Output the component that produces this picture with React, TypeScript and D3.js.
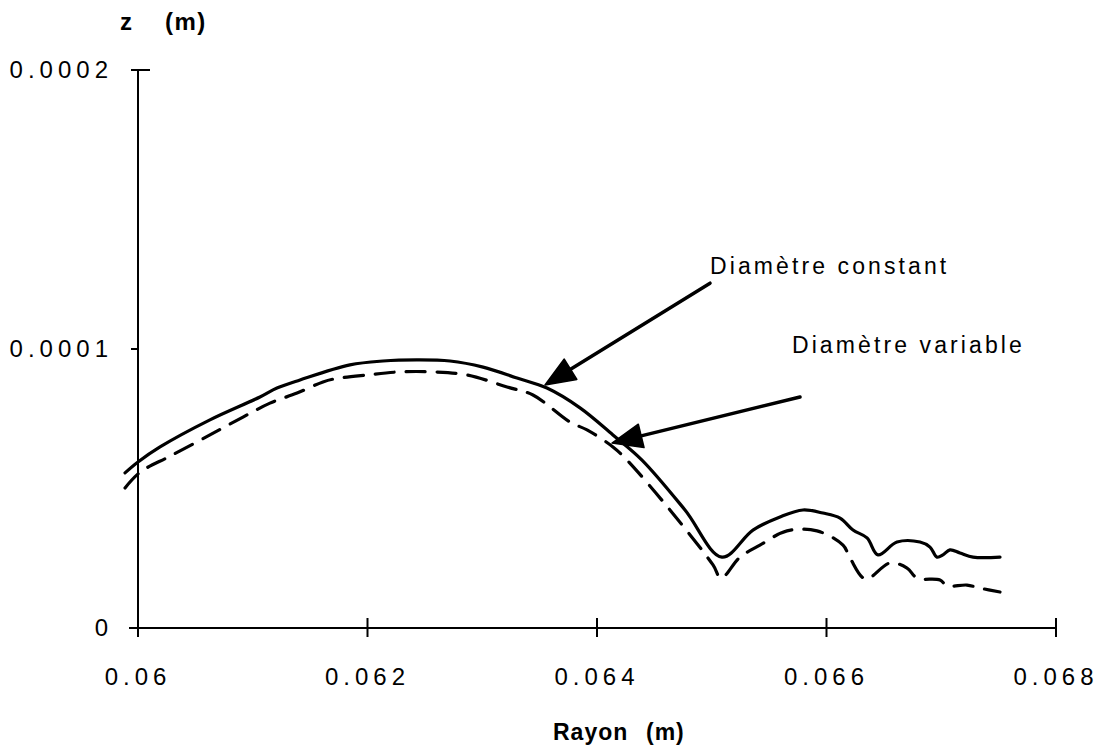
import React from "react";
import * as d3 from "d3";

// Rayon (m) values and z (units of 1e-5 m) — "Diamètre constant" (solid)
const constR = [0.059887, 0.06, 0.060192, 0.060627, 0.061063, 0.061211, 0.061412, 0.061847, 0.062135, 0.062431, 0.062719, 0.063007, 0.063303, 0.063564, 0.063852, 0.064139, 0.064392, 0.064767, 0.065089, 0.065359, 0.065595, 0.065795, 0.065969, 0.066118, 0.066231, 0.066353, 0.066449, 0.066614, 0.066815, 0.066902, 0.066963, 0.067015, 0.067076, 0.067163, 0.067277, 0.067512];
const constZ = [5.56, 5.95, 6.49, 7.46, 8.28, 8.6, 8.89, 9.43, 9.57, 9.61, 9.57, 9.35, 8.96, 8.6, 7.89, 6.92, 6.02, 4.23, 2.54, 3.51, 3.98, 4.23, 4.12, 3.94, 3.51, 3.23, 2.62, 3.08, 3.08, 2.9, 2.54, 2.62, 2.8, 2.69, 2.54, 2.54];

// "Diamètre variable" (dashed)
const varR = [0.059887, 0.06002, 0.06028, 0.060627, 0.060915, 0.06115, 0.061386, 0.061612, 0.0617, 0.061996, 0.062283, 0.062571, 0.062867, 0.063216, 0.063442, 0.063765, 0.063913, 0.064139, 0.064261, 0.064636, 0.065011, 0.065081, 0.065246, 0.06542, 0.065656, 0.065917, 0.066144, 0.066205, 0.06634, 0.066553, 0.066702, 0.066789, 0.066989, 0.06705, 0.067224, 0.067338, 0.067512];
const varZ = [5.02, 5.59, 6.16, 6.92, 7.56, 8.06, 8.42, 8.82, 8.92, 9.07, 9.18, 9.18, 9.07, 8.64, 8.35, 7.38, 7.1, 6.49, 6.02, 4.23, 2.26, 1.79, 2.54, 2.97, 3.48, 3.48, 2.97, 2.51, 1.76, 2.33, 2.15, 1.79, 1.72, 1.51, 1.54, 1.43, 1.29];

const xTicks = [0.06, 0.062, 0.064, 0.066, 0.068];
const xTickLabels = ["0.06", "0.062", "0.064", "0.066", "0.068"];
const yTicks = [0, 0.0001, 0.0002];
const yTickLabels = ["0", "0.0001", "0.0002"];

// annotations: label, text anchor, arrow tail, arrow tip (r, z in 1e-5 m)
const annLabels = ["Diamètre constant", "Diamètre variable"];
const annText = [[0.064985, 12.7], [0.065699, 9.85]];
const annTail = [[0.064985, 12.36], [0.065769, 8.28]];
const annTip = [[0.063547, 8.71], [0.064131, 6.63]];

const W = 1104;
const H = 749;
const FONT = "'Liberation Sans', Arial, Helvetica, sans-serif";

export default function App() {
  const x = d3.scaleLinear().domain([0.06, 0.068]).range([138, 1056]);
  const y = d3.scaleLinear().domain([0, 0.0002]).range([628, 70]);

  const line = d3
    .line<[number, number]>()
    .x((d) => x(d[0]))
    .y((d) => y(d[1] * 1e-5))
    .curve(d3.curveCatmullRom.alpha(0.5));

  const constPts = constR.map((r, i) => [r, constZ[i]] as [number, number]);
  const varPts = varR.map((r, i) => [r, varZ[i]] as [number, number]);

  const arrows = annLabels.map((lab, i) => {
    const tx = x(annTip[i][0]);
    const ty = y(annTip[i][1] * 1e-5);
    const sx = x(annTail[i][0]);
    const sy = y(annTail[i][1] * 1e-5);
    const dx = sx - tx;
    const dy = sy - ty;
    const len = Math.hypot(dx, dy);
    const ux = dx / len;
    const uy = dy / len;
    const L = 30;
    const hw = 12;
    const bx = tx + ux * L;
    const by = ty + uy * L;
    const p1 = [bx - uy * hw, by + ux * hw];
    const p2 = [bx + uy * hw, by - ux * hw];
    return {
      lab,
      sx,
      sy,
      bx,
      by,
      head: `M${tx},${ty}L${p1[0]},${p1[1]}L${p2[0]},${p2[1]}Z`,
      lx: x(annText[i][0]),
      ly: y(annText[i][1] * 1e-5),
    };
  });

  return (
    <svg
      width={W}
      height={H}
      style={{ position: "absolute", left: 0, top: 0, background: "#fff" }}
      fontFamily={FONT}
    >
      <rect x={0} y={0} width={W} height={H} fill="#fff" />
      {/* axes */}
      <line x1={129} x2={x(0.068)} y1={y(0)} y2={y(0)} stroke="#000" strokeWidth={2} />
      <line x1={x(0.06)} x2={x(0.06)} y1={y(0.0002)} y2={y(0)} stroke="#000" strokeWidth={2} />
      {xTicks.map((t, i) => (
        <g key={"xt" + i}>
          <line x1={x(t)} x2={x(t)} y1={y(0) - 10} y2={y(0) + 9} stroke="#000" strokeWidth={2} />
          <text x={x(t)} y={685} textAnchor="middle" fontSize={24} letterSpacing={5} fill="#000">
            {xTickLabels[i]}
          </text>
        </g>
      ))}
      {yTicks.map((t, i) => (
        <g key={"yt" + i}>
          <line x1={x(0.06) - 7} x2={x(0.06) + (i === 2 ? 12 : 0)} y1={y(t)} y2={y(t)} stroke="#000" strokeWidth={2} />
          <text x={113} y={y(t) + 8} textAnchor="end" fontSize={24} letterSpacing={5} fill="#000">
            {yTickLabels[i]}
          </text>
        </g>
      ))}
      {/* axis titles */}
      <text x={120} y={30} fontSize={24} fontWeight="bold" fill="#000">z</text>
      <text x={165} y={30} fontSize={24} fontWeight="bold" fill="#000" letterSpacing={1.5}>(m)</text>
      <text x={553} y={740} fontSize={23} fontWeight="bold" fill="#000" letterSpacing={1}>Rayon</text>
      <text x={646} y={740} fontSize={23} fontWeight="bold" fill="#000" letterSpacing={1}>(m)</text>

      {/* curves */}
      <path d={line(constPts) || ""} fill="none" stroke="#000" strokeWidth={3.2} strokeLinejoin="round" strokeLinecap="round" />
      <path
        d={line(varPts) || ""}
        fill="none"
        stroke="#000"
        strokeWidth={3.2}
        strokeDasharray="19,12"
        strokeLinecap="round"
        strokeLinejoin="round"
      />

      {/* annotations */}
      {arrows.map((a, i) => (
        <g key={"ann" + i}>
          <line x1={a.sx} y1={a.sy} x2={a.bx} y2={a.by} stroke="#000" strokeWidth={3.5} strokeLinecap="round" />
          <path d={a.head} fill="#000" stroke="#000" strokeWidth={1.5} strokeLinejoin="round" />
          <text x={a.lx} y={a.ly} fontSize={23} letterSpacing={3.1} fill="#000">
            {a.lab}
          </text>
        </g>
      ))}
    </svg>
  );
}
